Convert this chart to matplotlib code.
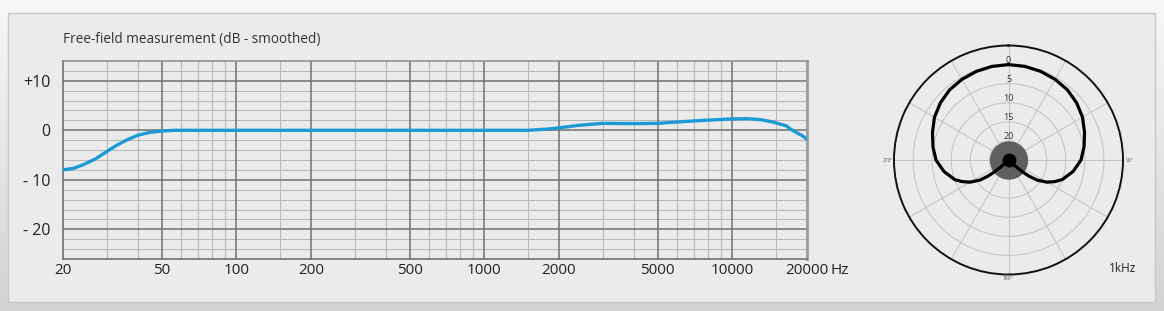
import numpy as np
import matplotlib
matplotlib.use('Agg')
import matplotlib.pyplot as plt
from matplotlib.patches import Rectangle
from matplotlib import transforms

# frequency response
freq = [20, 22, 24, 27, 30, 33, 36, 40, 45, 50, 56, 100, 1000, 1500, 1800, 2000, 2400,
        3000, 4000, 5000, 7000, 10000, 11500, 13000, 14500, 16500, 17200, 18200, 19000, 20000]
level = [-8.0, -7.7, -7.0, -5.8, -4.3, -3.0, -2.0, -1.0, -0.4, -0.15, 0, 0, 0, 0, 0.25, 0.5, 1.0,
         1.4, 1.35, 1.4, 1.9, 2.3, 2.35, 2.15, 1.7, 0.9, 0.2, -0.5, -1.0, -1.8]

major_f = [20, 50, 100, 200, 500, 1000, 2000, 5000, 10000, 20000]
major_lbl = ['20', '50', '100', '200', '500', '1000', '2000', '5000', '10000', '20000']
minor_f = [30, 40, 60, 70, 80, 90, 150, 300, 400, 600, 700, 800, 900, 1500,
           3000, 4000, 6000, 7000, 8000, 9000, 15000]
db_ticks = [10, 0, -10, -20]
db_lbl = ['+10', '0', '- 10', '- 20']

# polar pattern at 1 kHz, half (0..180 deg), mirrored
pol_ang = [0, 10, 20, 30, 40, 50, 60, 70, 80, 90, 100, 110, 115, 120, 125, 128, 130, 132, 135, 180]
pol_db = [0, -0.1, -0.3, -0.6, -1.0, -1.7, -2.6, -3.8, -4.9, -6.0, -7.8, -10.0, -11.6,
          -13.4, -15.8, -18.0, -20.0, -22.5, -25, -25]
ring_db = [0, -5, -10, -15, -20]
ring_lbl = ['0', '5', '10', '15', '20']

W, H = 1164, 311
fig = plt.figure(figsize=(W / 100, H / 100), dpi=100)

# background gradient + panel
bg = fig.add_axes([0, 0, 1, 1], zorder=-10)
grad = np.linspace(0, 1, 100).reshape(-1, 1)
bg.imshow(grad, aspect='auto', cmap=matplotlib.colors.LinearSegmentedColormap.from_list(
    'g', ['#f7f7f7', '#d3d3d3']), extent=[0, 1, 0, 1], origin='upper')
bg.axis('off')
fig.patches.append(Rectangle((8 / W, 9 / H), 1147 / W, 289 / H, transform=fig.transFigure,
                             facecolor='#ebebec', edgecolor='#c6c6c6', lw=1, zorder=-5))

font = 'Open Sans'
plt.rcParams['font.family'] = [font, 'DejaVu Sans']

ax = fig.add_axes([63 / W, 52 / H, 744 / W, 198 / H])
ax.set_facecolor('#ebebec')
ax.set_xscale('log')
ax.set_xlim(20, 20000)
ax.set_ylim(-26, 14)
for f in minor_f:
    ax.axvline(f, color='#b9b9b9', lw=0.8, zorder=1)
for d in range(-24, 14, 2):
    if d not in db_ticks:
        ax.axhline(d, color='#b9b9b9', lw=0.8, zorder=1)
for f in major_f[1:-1]:
    ax.axvline(f, color='#707070', lw=1.1, zorder=2)
for d in db_ticks:
    ax.axhline(d, color='#707070', lw=1.1, zorder=2)
ax.plot(freq, level, color='#1b9ad6', lw=2.4, zorder=5, solid_capstyle='round')

ax.xaxis.set_minor_locator(matplotlib.ticker.NullLocator())
ax.set_xticks(major_f)
ax.set_xticklabels(major_lbl, fontsize=11, color='#222222')
ax.set_yticks(db_ticks)
ax.set_yticklabels(db_lbl, fontsize=11.5, color='#222222')
ax.tick_params(length=0, pad=3)
ax.tick_params(axis='y', pad=9)
for s in ax.spines.values():
    s.set_color('#8a8a8a')
    s.set_linewidth(1.1)
ax.spines['right'].set_linewidth(2)
ax.spines['right'].set_color('#9a9a9a')
ax.spines['left'].set_color('#666666')
ax.spines['bottom'].set_color('#666666')
ax.text(1, 0, 'Hz', transform=transforms.offset_copy(ax.transAxes, fig=fig, x=24, y=-12, units='dots'),
        ha='left', va='center', fontsize=11, color='#222222')
ax.text(0, 1, 'Free-field measurement (dB - smoothed)', transform=transforms.offset_copy(
    ax.transAxes, fig=fig, x=0, y=14, units='dots'), ha='left', va='bottom',
    fontsize=9.8, color='#333333')

# polar plot
pax = fig.add_axes([894 / W, 36.5 / H, 229 / W, 229 / H], projection='polar')
pax.set_facecolor('none')
pax.set_theta_zero_location('N')
pax.set_theta_direction(-1)
pax.set_ylim(-25, 5)
pax.set_rticks(ring_db)
pax.set_yticklabels([])
pax.set_xticks(np.radians(np.arange(0, 360, 30)))
pax.set_xticklabels([])
pax.grid(True, color='#c2c2c2', lw=0.7)
pax.spines['polar'].set_color('#111111')
pax.spines['polar'].set_linewidth(1.4)

th = np.linspace(0, 2 * np.pi, 200)
pax.fill_between(th, -25, -20, color='#5f5f5f', zorder=3, lw=0)
ang = np.array(pol_ang + [360 - a for a in pol_ang[::-1]])
val = np.array(pol_db + pol_db[::-1])
pax.plot(np.radians(ang), val, color='black', lw=2.3, zorder=5)
pax.scatter([0], [-25], s=80, color='black', zorder=6)
for d, t in zip(ring_db, ring_lbl):
    pax.text(0, d + 1.1, t, ha='center', va='center', fontsize=6.5, color='#333333', zorder=7)

fig.text(888 / W, 1 - 160 / H, '270°', ha='center', va='center', fontsize=3.5, color='#555555')
fig.text(1130 / W, 1 - 160 / H, '90°', ha='center', va='center', fontsize=3.5, color='#555555')
fig.text(1008 / W, 1 - 279 / H, '180°', ha='center', va='center', fontsize=3.5, color='#555555')
fig.text(1123 / W, 1 - 269 / H, '1kHz', ha='center', va='center', fontsize=8.5, color='#222222')

fig.savefig('out.png', dpi=100)
